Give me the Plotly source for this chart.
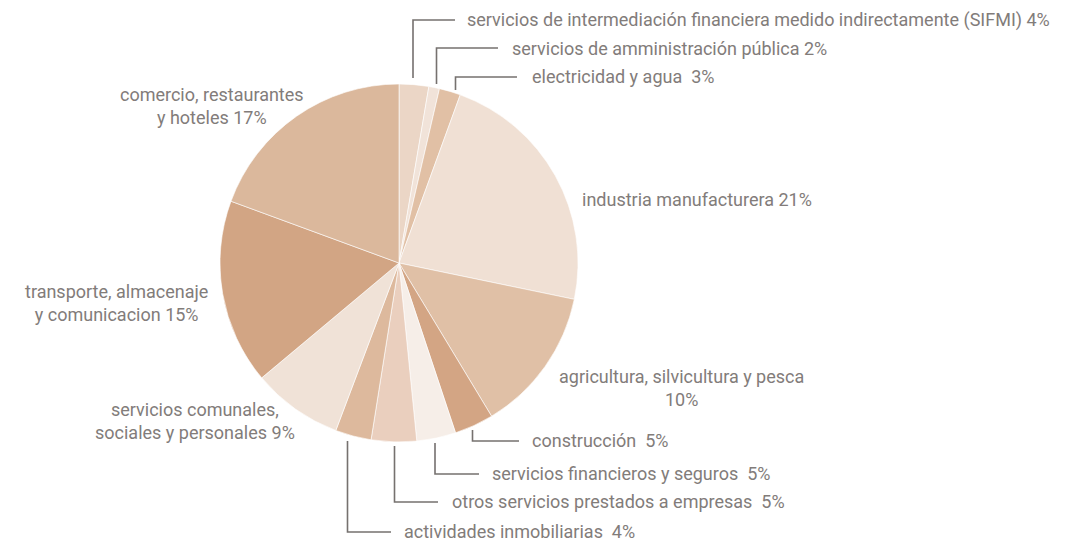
import plotly.graph_objects as go

# Data (slice sizes, in percent of the circle; labels as printed)
sectors = [
    "servicios de intermediación financiera medido indirectamente (SIFMI)",
    "servicios de amministración pública",
    "electricidad y agua",
    "industria manufacturera",
    "agricultura, silvicultura y pesca",
    "construcción",
    "servicios financieros y seguros",
    "otros servicios prestados a empresas",
    "actividades inmobiliarias",
    "servicios comunales, sociales y personales",
    "transporte, almacenaje y comunicacion",
    "comercio, restaurantes y hoteles",
]
slice_values = [2.67, 0.96, 1.93, 22.7, 13.1, 3.54, 3.53, 4.08, 3.25, 8.17, 16.7, 19.4]
label_texts = [
    "servicios de intermediación financiera medido indirectamente (SIFMI) 4%",
    "servicios de amministración pública 2%",
    "electricidad y agua  3%",
    "industria manufacturera 21%",
    "agricultura, silvicultura y pesca<br>10%",
    "construcción  5%",
    "servicios financieros y seguros  5%",
    "otros servicios prestados a empresas  5%",
    "actividades inmobiliarias  4%",
    "servicios comunales,<br>sociales y personales 9%",
    "transporte, almacenaje<br>y comunicacion 15%",
    "comercio, restaurantes<br>y hoteles 17%",
]
slice_colors = [
    "#ebd6c6", "#f1e3d9", "#e1c0a5", "#f0e0d4", "#e0c0a6", "#d3a584",
    "#f6eee8", "#eacfbe", "#ddb99d", "#f0e2d7", "#d2a584", "#dbb89c",
]

W, H = 1080, 542
TEXT_COLOR = "#827c7a"
LINE_COLOR = "#76716f"
FONT = "Roboto"
FS = 18

fig = go.Figure(go.Pie(
    labels=sectors,
    values=slice_values,
    sort=False,
    direction="clockwise",
    rotation=0,
    marker=dict(colors=slice_colors, line=dict(color="rgba(255,255,255,0.6)", width=1)),
    textinfo="none",
    hoverinfo="label+percent",
    domain=dict(x=[(399 - 179) / W, (399 + 179) / W], y=[(H - 263 - 179) / H, (H - 263 + 179) / H]),
    showlegend=False,
))

# label placement (pixel coords, y from top): x, y, anchor
label_pos = [
    (465, 20, "left"),
    (510, 48, "left"),
    (530, 77, "left"),
    (580, 199, "left"),
    (681, 388, "center"),
    (530, 440, "left"),
    (490, 473, "left"),
    (450, 501, "left"),
    (402, 531, "left"),
    (195, 421, "center"),
    (116, 303, "center"),
    (212, 106, "center"),
]
# leader lines: polyline points (pixel coords)
leaders = [
    [(413, 78), (413, 20), (455, 20)],
    [(436.5, 84), (436.5, 48), (498, 48)],
    [(455.5, 90), (455.5, 77), (517, 77)],
    [(472.5, 430), (472.5, 441), (519, 441)],
    [(435, 443), (435, 474), (479, 474)],
    [(394.5, 446), (394.5, 502), (438, 502)],
    [(347.5, 441), (347.5, 532), (391, 532)],
]

def px(x):
    return x / W

def py(y):
    return 1 - y / H

annotations = []
for txt, (x, y, anc) in zip(label_texts, label_pos):
    annotations.append(dict(
        text=txt, x=px(x), y=py(y), xref="paper", yref="paper",
        xanchor=anc, yanchor="middle", align=anc,
        showarrow=False, font=dict(family=FONT, size=FS, color=TEXT_COLOR),
    ))

shapes = []
for pts in leaders:
    path = "M " + " L ".join(f"{px(x):.5f},{py(y):.5f}" for x, y in pts)
    shapes.append(dict(type="path", path=path, xref="paper", yref="paper",
                       line=dict(color=LINE_COLOR, width=1.6)))

fig.update_layout(
    width=W, height=H,
    margin=dict(l=0, r=0, t=0, b=0),
    paper_bgcolor="white", plot_bgcolor="white",
    annotations=annotations, shapes=shapes,
)

fig.write_html(
    "out.html",
    config={"displayModeBar": False},
    post_script="document.body.style.margin='0';document.body.style.overflow='hidden';",
)
